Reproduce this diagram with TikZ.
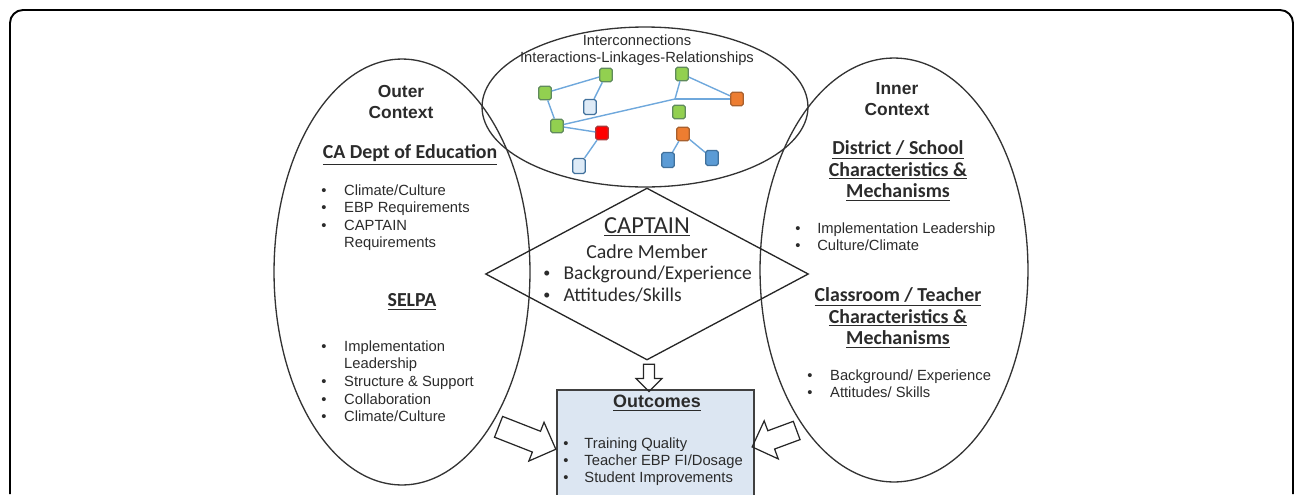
\documentclass[tikz,border=0pt]{standalone}
\usepackage{fontspec}
\setmainfont{Liberation Sans}
\newfontfamily\calfont{Carlito}
\usetikzlibrary{shapes.geometric, shapes.arrows, positioning}
\definecolor{netgreen}{HTML}{92D050}
\definecolor{netgreenline}{HTML}{5F8A5C}
\definecolor{netorange}{HTML}{ED7D31}
\definecolor{netorangeline}{HTML}{A8602E}
\definecolor{netred}{HTML}{FF0000}
\definecolor{netredline}{HTML}{A83A3A}
\definecolor{netpale}{HTML}{DEEBF7}
\definecolor{netblue}{HTML}{5B9BD5}
\definecolor{netblueline}{HTML}{41719C}
\definecolor{netedge}{HTML}{6FA8DC}
\definecolor{outfill}{HTML}{DCE6F2}
\definecolor{txtgray}{HTML}{2B2B2B}

\newcommand{\bulletrows}[2]{\begin{tabular}{@{}p{#1}@{}l@{}}#2\end{tabular}}
\newcommand{\smallbul}{\raisebox{0.9pt}{\fontsize{8}{8}\selectfont\textbullet}}

\begin{document}
\begin{tikzpicture}[
    x=0.02cm, y=-0.02cm,
    ctx/.style={
        ellipse,
        draw=black!80,
        line width=0.75pt,
        inner sep=0
    },
    title/.style={
        font=\bfseries\fontsize{9.9}{11.9}\selectfont,
        align=center,
        text=txtgray
    },
    heading/.style={
        font=\calfont\bfseries\fontsize{11.3}{12.2}\selectfont,
        align=center,
        text=txtgray
    },
    items/.style={
        font=\fontsize{8.4}{10}\selectfont,
        anchor=west,
        inner sep=0,
        text=txtgray
    },
    netbox/.style={
        draw,
        rounded corners=1pt,
        minimum width=0.25cm,
        minimum height=0.27cm,
        inner sep=0,
        line width=0.7pt
    },
    greenbox/.style={netbox, fill=netgreen, draw=netgreenline},
    orangebox/.style={netbox, fill=netorange, draw=netorangeline},
    redbox/.style={netbox, fill=netred, draw=netredline},
    palebox/.style={netbox, fill=netpale, draw=netblueline, minimum height=0.3cm},
    bluebox/.style={netbox, fill=netblue, draw=netblueline, minimum height=0.3cm},
    netline/.style={
        draw=netedge,
        line width=0.8pt
    },
    blockarrow/.style={
        single arrow,
        draw=black!85,
        line width=0.7pt,
        minimum width=0pt
    }
]
\useasboundingbox (0,0) rectangle (1295,494);

% frame
\draw[line width=1.1pt, rounded corners=0.26cm] (10,494) -- (10,10) -- (1293,10) -- (1293,494);

% context ellipses
\node[ctx, minimum width=5.12cm, minimum height=8.52cm] (outer) at (402,272) {};
\node[ctx, minimum width=5.36cm, minimum height=8.48cm] (inner) at (894,270) {};
\node[ctx, minimum width=6.52cm, minimum height=3.2cm] (links) at (645,107) {};

% CAPTAIN diamond and outcomes box
\node[diamond, draw=black!85, line width=0.75pt, inner sep=0,
      minimum width=6.46cm, minimum height=3.44cm] (capt) at (647,274) {};
\node[draw=black!75, fill=outfill, line width=0.9pt, anchor=north west,
      minimum width=3.94cm, minimum height=2.6cm] (outc) at (556,389) {};

% Outer context (left)
\node[title] (outertitle) at (401,102) {Outer\\Context};
\node[heading] (cdehead) at (410,155) {\underline{CA Dept of Education}};
\node[items] (cdelist) at (321,218) {\bulletrows{13pt}{%
    \textbullet & Climate/Culture\\
    \textbullet & EBP Requirements\\
    \textbullet & CAPTAIN\\
     & Requirements}};
\node[heading] (selpahead) at (412,302) {\underline{SELPA}};
\node[items] (selpalist) at (321,383) {\bulletrows{13pt}{%
    \textbullet & Implementation\\
     & Leadership\\
    \textbullet & Structure \& Support\\
    \textbullet & Collaboration\\
    \textbullet & Climate/Culture}};

% Inner context (right)
\node[title] (innertitle) at (897,99) {Inner\\Context};
\node[heading] (disthead) at (898,171) {\underline{District / School}\\\underline{Characteristics \&}\\\underline{Mechanisms}};
\node[items, font=\fontsize{8.4}{9.6}\selectfont] (distlist) at (795,238.5) {\bulletrows{12.5pt}{%
    \textbullet & Implementation Leadership\\
    \textbullet & Culture/Climate}};
\node[heading] (classhead) at (898,318) {\underline{Classroom / Teacher}\\\underline{Characteristics \&}\\\underline{Mechanisms}};
\node[items, font=\fontsize{8.4}{9.6}\selectfont] (classlist) at (807,385.5) {\bulletrows{13pt}{%
    \textbullet & Background/ Experience\\
    \textbullet & Attitudes/ Skills}};

% Interconnections (top)
\node[font=\fontsize{8.4}{9.6}\selectfont, align=center, text=txtgray] (linktitle) at (637,50.5)
    {Interconnections\\Interactions-Linkages-Relationships};

\node[greenbox] (g1) at (606,75) {};
\node[greenbox] (g2) at (545,93) {};
\node[palebox] (p1) at (590,107) {};
\node[greenbox] (g3) at (557,126) {};
\node[redbox] (r1) at (602,133) {};
\node[palebox] (p2) at (579,166) {};
\node[greenbox] (g4) at (682,74) {};
\node[orangebox] (o1) at (737,99) {};
\node[greenbox] (g5) at (679,112) {};
\node[orangebox] (o2) at (683,134) {};
\node[bluebox] (b1) at (668,160) {};
\node[bluebox] (b2) at (712,158) {};
\coordinate (jn) at (675,99);

\draw[netline] (g1) -- (g2);
\draw[netline] (g1) -- (p1);
\draw[netline] (g2) -- (g3);
\draw[netline] (g3) -- (r1);
\draw[netline] (r1) -- (p2);
\draw[netline] (g3) -- (jn);
\draw[netline] (g4) -- (jn);
\draw[netline] (jn) -- (o1);
\draw[netline] (g4) -- (o1);
\draw[netline] (o2) -- (b1);
\draw[netline] (o2) -- (b2);

% CAPTAIN text
\node[font=\calfont\fontsize{13.9}{15}\selectfont, text=txtgray] (capttitle) at (647,227) {\underline{CAPTAIN}};
\node[font=\calfont\fontsize{11.3}{13}\selectfont, text=txtgray] (cadre) at (647,252) {Cadre Member};
\node[items, font=\calfont\fontsize{11.1}{12.5}\selectfont] (captlist) at (543,286) {\bulletrows{11.5pt}{%
    \smallbul & Background/Experience\\
    \smallbul & Attitudes/Skills}};

% Outcomes text
\node[font=\bfseries\fontsize{10.2}{12}\selectfont, text=txtgray] (outhead) at (657,403) {\underline{Outcomes}};
\node[items, font=\fontsize{8.4}{9.6}\selectfont] (outlist) at (563,462) {\bulletrows{12pt}{%
    \textbullet & Training Quality\\
    \textbullet & Teacher EBP FI/Dosage\\
    \textbullet & Student Improvements}};

% Block arrows
\node[blockarrow, inner sep=2.8pt, single arrow head extend=4.2pt,
      minimum height=15.5pt, rotate=-90] (downarr) at (649,375) {};
\node[blockarrow, inner sep=6pt, single arrow head extend=5.5pt,
      minimum height=35pt, rotate=-21.4] (leftarr) at (522,436) {};
\node[blockarrow, inner sep=5.2pt, single arrow head extend=6pt,
      minimum height=27pt, rotate=200.3] (rightarr) at (779,437) {};

\end{tikzpicture}
\end{document}
